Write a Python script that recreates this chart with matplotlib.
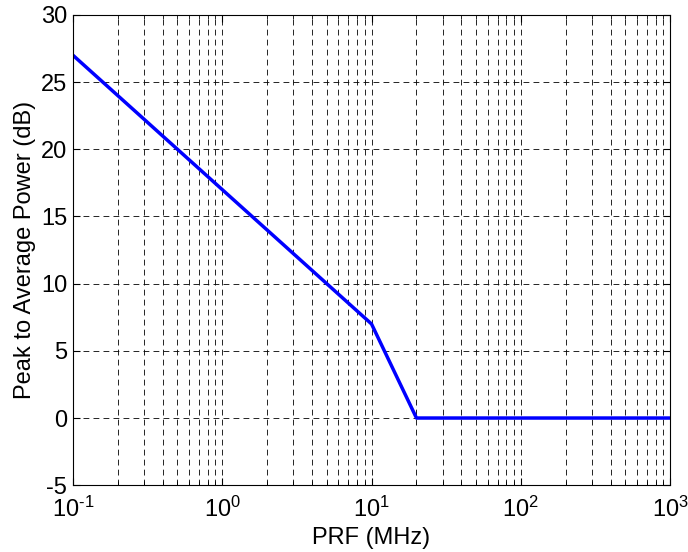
import matplotlib
matplotlib.use('Agg')
import matplotlib.pyplot as plt
from matplotlib.ticker import LogLocator, NullFormatter, FuncFormatter
import math

plt.rcParams['font.family'] = ['Liberation Sans', 'DejaVu Sans']
plt.rcParams['mathtext.fontset'] = 'custom'
plt.rcParams['mathtext.rm'] = 'Liberation Sans'
plt.rcParams['mathtext.it'] = 'Liberation Sans'
plt.rcParams['mathtext.default'] = 'regular'
plt.rcParams['axes.unicode_minus'] = False

# PRF breakpoints (MHz) and peak-to-average power (dB)
prf = [0.1, 10, 20, 1000]
papr = [27, 7, 0, 0]


def dec_label(x, pos):
    e = int(round(math.log10(x)))
    return r'$10^{\text{%d}}$' % e


fig = plt.figure(figsize=(6.88, 5.52), dpi=100)
ax = fig.add_axes([0.106, 0.121, 0.868, 0.852])

ax.semilogx(prf, papr, color='#0000ff', linewidth=2.5)

ax.set_xlim(0.1, 1000)
ax.set_ylim(-5, 30)
ax.set_yticks(range(-5, 31, 5))
ax.xaxis.set_major_locator(LogLocator(base=10, numticks=10))
ax.xaxis.set_major_formatter(FuncFormatter(dec_label))
ax.xaxis.set_minor_locator(LogLocator(base=10, subs=range(2, 10), numticks=20))
ax.xaxis.set_minor_formatter(NullFormatter())

# dashed grid, minor lines only along x
dash = (0, (7, 5))
ax.grid(True, which='major', axis='both', color='black', linestyle=dash, linewidth=0.6)
ax.grid(True, which='minor', axis='x', color='black', linestyle=dash, linewidth=0.6)

ax.tick_params(which='both', direction='in', top=True, right=True, labelsize=17)
ax.tick_params(which='major', length=5)
ax.tick_params(which='minor', length=3)
ax.tick_params(axis='y', pad=4)
ax.tick_params(axis='x', pad=8)
for s in ax.spines.values():
    s.set_linewidth(0.8)

ax.set_xlabel('PRF (MHz)', fontsize=17, labelpad=4)
ax.set_ylabel('Peak to Average Power (dB)', fontsize=17, labelpad=4)

fig.savefig('out.png', dpi=100)
